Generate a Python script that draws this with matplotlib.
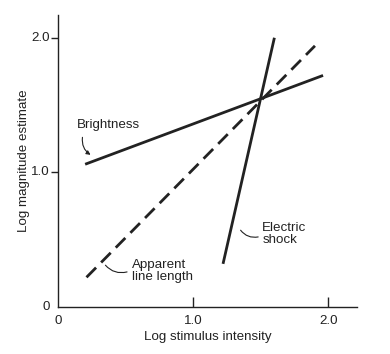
import matplotlib.pyplot as plt

# ----------------------------
# Data (log-log power functions)
# ----------------------------

bright_x = [0.20, 1.96]
bright_y = [1.06, 1.72]

length_x = [0.21, 1.90]
length_y = [0.22, 1.94]

shock_x = [1.22, 1.60]
shock_y = [0.32, 2.00]

tick_vals = [0, 1.0, 2.0]
tick_labels = ["0", "1.0", "2.0"]

ink = "#222222"
fs = 9.6

plt.rcParams["font.family"] = ["Liberation Sans", "DejaVu Sans"]

fig = plt.figure(figsize=(3.9, 3.54), dpi=100)
ax = fig.add_axes([0.149, 0.133, 0.766, 0.825])

ax.plot(bright_x, bright_y, color=ink, lw=2.0, solid_capstyle="butt")
ax.plot(length_x, length_y, color=ink, lw=2.0, dashes=(4.9, 2.6),
        dash_capstyle="butt")
ax.plot(shock_x, shock_y, color=ink, lw=2.0, solid_capstyle="butt")

ax.set_xlim(0, 2.21)
ax.set_ylim(0, 2.17)

# ----------------------------
# Axes styling
# ----------------------------

for s in ["top", "right"]:
    ax.spines[s].set_visible(False)
for s in ["left", "bottom"]:
    ax.spines[s].set_color(ink)
    ax.spines[s].set_linewidth(1.0)

ax.set_xticks([1.0, 2.0])
ax.set_yticks([1.0, 2.0])
ax.set_xticklabels([])
ax.set_yticklabels([])
ax.tick_params(axis="x", direction="in", length=7, width=1.0, color=ink)
ax.tick_params(axis="y", direction="out", length=5, width=1.0, color=ink)

for v, lab in zip(tick_vals, tick_labels):
    ax.text(v, -0.06, lab, ha="center", va="top", fontsize=fs, color=ink)
    ax.text(-0.06, v, lab, ha="right", va="center", fontsize=fs, color=ink)

ax.set_xlabel("Log stimulus intensity", fontsize=fs, color=ink, labelpad=14)
ax.set_ylabel("Log magnitude estimate", fontsize=fs, color=ink, labelpad=12)

# ----------------------------
# Labels with curved pointers
# ----------------------------

ax.text(0.14, 1.35, "Brightness", ha="left", va="center", fontsize=fs, color=ink)
ax.annotate("", xy=(0.24, 1.13), xytext=(0.18, 1.26),
            arrowprops=dict(arrowstyle="-|>", color=ink, lw=0.8,
                            mutation_scale=6, shrinkA=0, shrinkB=0,
                            connectionstyle="arc3,rad=0.3"))

ax.text(0.55, 0.27, "Apparent\nline length", ha="left", va="center",
        fontsize=fs, color=ink, linespacing=1.0)
ax.annotate("", xy=(0.35, 0.31), xytext=(0.51, 0.26),
            arrowprops=dict(arrowstyle="-", color=ink, lw=0.8,
                            shrinkA=0, shrinkB=0,
                            connectionstyle="arc3,rad=-0.3"))

ax.text(1.51, 0.54, "Electric\nshock", ha="left", va="center",
        fontsize=fs, color=ink, linespacing=1.0)
ax.annotate("", xy=(1.35, 0.57), xytext=(1.48, 0.52),
            arrowprops=dict(arrowstyle="-", color=ink, lw=0.8,
                            shrinkA=0, shrinkB=0,
                            connectionstyle="arc3,rad=-0.3"))

plt.savefig("out.png", dpi=100)
plt.close()
